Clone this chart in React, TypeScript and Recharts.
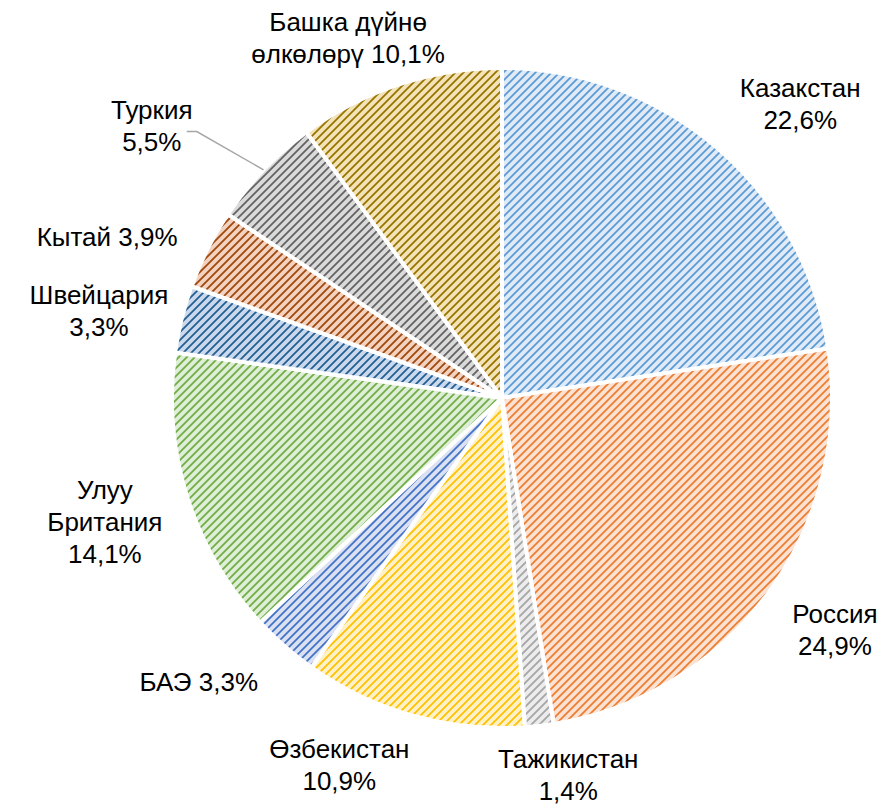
import { Pie, PieChart, Cell } from "recharts";

const NAMES = [
  "Казакстан",
  "Россия",
  "Тажикистан",
  "Өзбекистан",
  "БАЭ",
  "Улуу\nБритания",
  "Швейцария",
  "Кытай",
  "Туркия",
  "Башка дүйнө\nөлкөлөрү",
];
const SHARES = [22.6, 24.9, 1.4, 10.9, 3.3, 14.1, 3.3, 3.9, 5.5, 10.1];
// percent printed on the same line as the last word of the name
const PCT_INLINE = [false, false, false, false, true, false, false, true, false, true];

const STRIPE = ["#5b9bd5", "#ed7d31", "#a5a5a5", "#ffc000", "#4472c4", "#70ad47", "#255e91", "#9e480e", "#636363", "#997300"];
const BACK = ["#e1ebf7", "#fce2d2", "#ececec", "#fff2c8", "#dae1f3", "#dfeed6", "#cadaee", "#f3d3bf", "#dadada", "#f2e4b8"];

// label nudges relative to a point 410px out along the slice mid angle
const NUDGE: [number, number][] = [
  [31, 17], [2, -10], [20, -30], [-52, -28], [-33, -24],
  [-6, 1], [-5, 11], [-29, 24], [-54, 11], [-26, 30],
];

const data = NAMES.map((name, i) => ({ name, value: SHARES[i] }));

const RAD = Math.PI / 180;
const FONT = 26;
const LH = 32;

function renderLabel(props: any) {
  const { cx, cy, midAngle, outerRadius, index } = props;
  const ax = cx + 410 * Math.cos(-midAngle * RAD) + NUDGE[index][0];
  const ay = cy + 410 * Math.sin(-midAngle * RAD) + NUDGE[index][1];
  const pct = SHARES[index].toFixed(1).replace(".", ",") + "%";
  const parts = NAMES[index].split("\n");
  const lines = PCT_INLINE[index]
    ? [...parts.slice(0, -1), parts[parts.length - 1] + " " + pct]
    : [...parts, pct];
  const y0 = ay - ((lines.length - 1) * LH) / 2 + 9;
  let leader = null;
  if (index === 8) {
    const ex = cx + outerRadius * Math.cos(-midAngle * RAD);
    const ey = cy + outerRadius * Math.sin(-midAngle * RAD);
    leader = (
      <polyline
        points={`${ax + 35},${ay + 6} ${ax + 45},${ay + 6} ${ex},${ey}`}
        fill="none"
        stroke="#a6a6a6"
        strokeWidth={1.5}
      />
    );
  }
  return (
    <g key={`lbl-${index}`}>
      {leader}
      <text
        x={ax}
        y={y0}
        textAnchor="middle"
        fontFamily="'Liberation Sans', Arial, sans-serif"
        fontSize={FONT}
        fill="#000"
      >
        {lines.map((l, k) => (
          <tspan key={k} x={ax} y={y0 + k * LH}>
            {l}
          </tspan>
        ))}
      </text>
    </g>
  );
}

export default function App() {
  return (
    <div style={{ position: "absolute", left: 0, top: 0, width: 883, height: 806, background: "#fff" }}>
      <PieChart width={883} height={806} margin={{ top: 0, right: 0, bottom: 0, left: 0 }}>
        <defs>
          {STRIPE.map((c, i) => (
            <pattern key={i} id={`hatch${i}`} width={8} height={8} patternUnits="userSpaceOnUse">
              <rect width={8} height={8} fill={BACK[i]} />
              <path d="M-2,2 L2,-2 M0,8 L8,0 M6,10 L10,6" stroke={c} strokeWidth={1.8} />
            </pattern>
          ))}
        </defs>
        <Pie
          data={data}
          dataKey="value"
          nameKey="name"
          cx={502}
          cy={398}
          outerRadius={330}
          startAngle={90}
          endAngle={-270}
          stroke="#fff"
          strokeWidth={4}
          label={renderLabel}
          labelLine={false}
          isAnimationActive={false}
        >
          {data.map((_, i) => (
            <Cell key={i} fill={`url(#hatch${i})`} />
          ))}
        </Pie>
      </PieChart>
    </div>
  );
}
